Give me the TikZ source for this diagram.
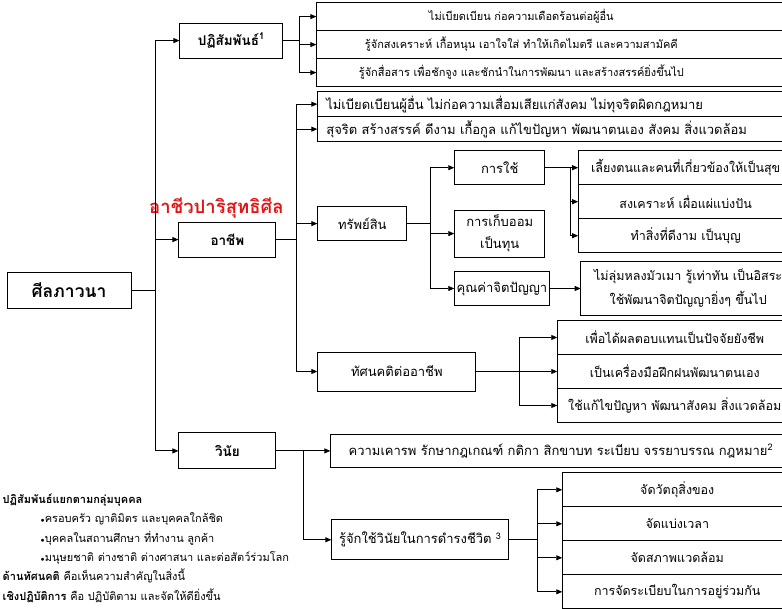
\documentclass[tikz,border=0pt]{standalone}
\usepackage{fontspec}
\newfontfamily\thaifont[Script=Thai]{Loma}
\usepackage{tikz}
\usetikzlibrary{positioning}
\usetikzlibrary{arrows.meta}
\definecolor{titlered}{RGB}{226,22,22}
\tikzstyle{rootbox} = [rectangle, draw=black, line width=0.9pt, minimum width=124pt, minimum height=36pt, inner sep=2pt, text centered, font=\thaifont\bfseries\fontsize{17.5}{20}\selectfont]
\tikzstyle{topic} = [rectangle, draw=black, line width=0.9pt, minimum width=97pt, minimum height=35pt, inner sep=2pt, text centered, font=\thaifont\bfseries\fontsize{13.5}{16}\selectfont]
\tikzstyle{branch} = [rectangle, draw=black, line width=0.9pt, minimum height=34pt, inner sep=2pt, align=center, font=\thaifont\fontsize{13}{22}\selectfont]
\tikzstyle{leaf} = [rectangle, draw=black, line width=0.9pt, outer sep=0pt, minimum height=34pt, inner sep=2pt, align=center, font=\thaifont\fontsize{12.5}{24}\selectfont]
\tikzstyle{leafl} = [leaf, inner xsep=9pt, align=left, font=\thaifont\fontsize{13}{16}\selectfont]
\tikzstyle{leafs} = [leafl, font=\thaifont\fontsize{11}{14}\selectfont]
\tikzstyle{arrow} = [line width=0.8pt, -{Triangle[length=6pt, width=5pt]}]
\tikzstyle{link} = [line width=0.8pt]
\newcommand{\shiftedtext}[1]{\makebox[392pt]{#1}}

\begin{document}
\begin{tikzpicture}[node distance=2cm]

		\useasboundingbox (-69pt,290pt) rectangle (713pt,-319pt);
		\clip (-69pt,290pt) rectangle (713pt,-319pt);

		\node (silbhavana) [rootbox] {ศีลภาวนา};

		\node (patisamphan) [topic, minimum width=103pt, above right = 213pt and 48pt of silbhavana] {ปฏิสัมพันธ์\textsuperscript{1}};
		\node (apiwat) [topic, above right = 14pt and 47pt of silbhavana] {อาชีพ};
		\node (winai) [topic, minimum height=36pt, below right = 124pt and 47pt of silbhavana] {วินัย};

		\node (redtitle) [above = 0pt of apiwat, xshift=-11pt, text=titlered, font=\thaifont\bfseries\fontsize{18.5}{20}\selectfont] {อาชีวปาริสุทธิศีล};

		% ปฏิสัมพันธ์
		\node (r2) [leafs, minimum height=28pt, text width=457pt, right = 33pt of patisamphan, yshift=-4pt] {\shiftedtext{รู้จักสงเคราะห์ เกื้อหนุน เอาใจใส่ ทำให้เกิดไมตรี และความสามัคคี}};
		\node (r1) [leafs, minimum height=28pt, text width=457pt, above = 0pt of r2] {\shiftedtext{ไม่เบียดเบียน ก่อความเดือดร้อนต่อผู้อื่น}};
		\node (r3) [leafs, minimum height=28pt, text width=457pt, below = 0pt of r2] {\shiftedtext{รู้จักสื่อสาร เพื่อชักจูง และชักนำในการพัฒนา และสร้างสรรค์ยิ่งขึ้นไป}};

		% อาชีพ
		\node (a2) [leafl, minimum height=25pt, text width=456pt, above right = 80pt and 41pt of apiwat] {สุจริต สร้างสรรค์ ดีงาม เกื้อกูล แก้ไขปัญหา พัฒนาตนเอง สังคม สิ่งแวดล้อม};
		\node (a1) [leafl, minimum height=25pt, text width=456pt, above = 0pt of a2] {ไม่เบียดเบียนผู้อื่น ไม่ก่อความเสื่อมเสียแก่สังคม ไม่ทุจริตผิดกฎหมาย};
		\node (sap) [branch, minimum width=89pt, right = 41pt of apiwat, yshift=16pt] {ทรัพย์สิน};
		\node (tat) [branch, minimum width=158pt, minimum height=39pt, below right = 94pt and 41pt of apiwat] {ทัศนคติต่ออาชีพ};

		\node (kanchai) [branch, minimum width=90pt, above right = 21pt and 47pt of sap] {การใช้};
		\node (kepom) [branch, minimum width=90pt, minimum height=47pt, right = 47pt of sap, yshift=-10pt] {การเก็บออม\\เป็นทุน};
		\node (khunkha) [branch, minimum width=92pt, below right = 30pt and 47pt of sap] {คุณค่าจิตปัญญา};

		\node (u1) [leaf, minimum width=215pt, right = 33pt of kanchai] {เลี้ยงตนและคนที่เกี่ยวข้องให้เป็นสุข};
		\node (u2) [leaf, minimum width=215pt, below = 0pt of u1] {สงเคราะห์ เผื่อแผ่แบ่งปัน};
		\node (u3) [leaf, minimum width=215pt, below = 0pt of u2] {ทำสิ่งที่ดีงาม เป็นบุญ};
		\node (lum) [leaf, minimum width=215pt, minimum height=54pt, right = 31pt of khunkha] {ไม่ลุ่มหลงมัวเมา รู้เท่าทัน เป็นอิสระ\\ใช้พัฒนาจิตปัญญายิ่งๆ ขึ้นไป};

		\node (t2) [leaf, minimum width=235pt, right = 81pt of tat] {เป็นเครื่องมือฝึกฝนพัฒนาตนเอง};
		\node (t1) [leaf, minimum width=235pt, above = 0pt of t2] {เพื่อได้ผลตอบแทนเป็นปัจจัยยังชีพ};
		\node (t3) [leaf, minimum width=235pt, below = 0pt of t2] {ใช้แก้ไขปัญหา พัฒนาสังคม สิ่งแวดล้อม};

		% วินัย
		\node (khaorop) [leaf, font=\thaifont\fontsize{13}{16}\selectfont, minimum width=461pt, minimum height=33pt, right = 54pt of winai] {ความเคารพ รักษากฎเกณฑ์ กติกา สิกขาบท ระเบียบ จรรยาบรรณ กฎหมาย\textsuperscript{2}};
		\node (rujak) [branch, minimum width=177pt, minimum height=40pt, below right = 50pt and 55pt of winai] {รู้จักใช้วินัยในการดำรงชีวิต \textsuperscript{3}};

		\node (w2) [leaf, minimum width=230pt, right = 53pt of rujak, yshift=16pt] {จัดแบ่งเวลา};
		\node (w1) [leaf, minimum width=230pt, above = 0pt of w2] {จัดวัตถุสิ่งของ};
		\node (w3) [leaf, minimum width=230pt, below = 0pt of w2] {จัดสภาพแวดล้อม};
		\node (w4) [leaf, minimum width=230pt, below = 0pt of w3] {การจัดระเบียบในการอยู่ร่วมกัน};

		\node (notes) [below right = 185pt and -4pt of silbhavana.south west, inner sep=0pt, align=left, font=\thaifont\fontsize{11}{19.4}\selectfont] {{\bfseries ปฏิสัมพันธ์แยกตามกลุ่มบุคคล}\\
			\hspace*{38pt}{\scriptsize$\bullet$}ครอบครัว ญาติมิตร และบุคคลใกล้ชิด\\
			\hspace*{38pt}{\scriptsize$\bullet$}บุคคลในสถานศึกษา ที่ทำงาน ลูกค้า\\
			\hspace*{38pt}{\scriptsize$\bullet$}มนุษยชาติ ต่างชาติ ต่างศาสนา และต่อสัตว์ร่วมโลก\\
			{\bfseries ด้านทัศนคติ} คือเห็นความสำคัญในสิ่งนี้\\
			{\bfseries เชิงปฏิบัติการ} คือ ปฏิบัติตาม และจัดให้ดียิ่งขึ้น};

		\draw [link] (silbhavana.east) -- ++(24pt,0) coordinate (trunk);
		\draw [arrow] (trunk) |- (patisamphan.west);
		\draw [arrow] (trunk) |- (apiwat.west);
		\draw [arrow] (trunk) |- (winai.west);

		\draw [link] (patisamphan.east) -- ++(16pt,0) coordinate (pjunc);
		\draw [arrow] (pjunc) |- (r1.west);
		\draw [arrow] (pjunc) |- (r2.west);
		\draw [arrow] (pjunc) |- (r3.west);

		\draw [link] (apiwat.east) -- ++(20pt,0) coordinate (ajunc);
		\draw [arrow] (ajunc) |- (a1.west);
		\draw [arrow] (ajunc) |- (a2.west);
		\draw [arrow] (ajunc) |- (sap.west);
		\draw [arrow] (ajunc) |- (tat.west);

		\draw [link] (sap.east) -- ++(23pt,0) coordinate (sjunc);
		\draw [arrow] (sjunc) |- (kanchai.west);
		\draw [arrow] (sjunc) |- (kepom.west);
		\draw [arrow] (sjunc) |- (khunkha.west);

		\draw [link] (kanchai.east) -- ++(25pt,0) coordinate (kjunc);
		\draw [arrow] (kjunc) |- (u1.west);
		\draw [arrow] (kjunc) |- (u2.west);
		\draw [arrow] (kjunc) |- (u3.west);
		\draw [arrow] (khunkha.east) -- (lum.west);

		\draw [link] (tat.east) -- ++(43pt,0) coordinate (tjunc);
		\draw [arrow] (tjunc) |- (t1.west);
		\draw [arrow] (tjunc) |- (t2.west);
		\draw [arrow] (tjunc) |- (t3.west);

		\draw [link] (winai.east) -- ++(27pt,0) coordinate (wjunc);
		\draw [arrow] (wjunc) |- (khaorop.west);
		\draw [arrow] (wjunc) |- (rujak.west);

		\draw [link] (rujak.east) -- ++(28pt,0) coordinate (rjunc);
		\draw [arrow] (rjunc) |- (w1.west);
		\draw [arrow] (rjunc) |- (w2.west);
		\draw [arrow] (rjunc) |- (w3.west);
		\draw [arrow] (rjunc) |- (w4.west);

\end{tikzpicture}
\end{document}
